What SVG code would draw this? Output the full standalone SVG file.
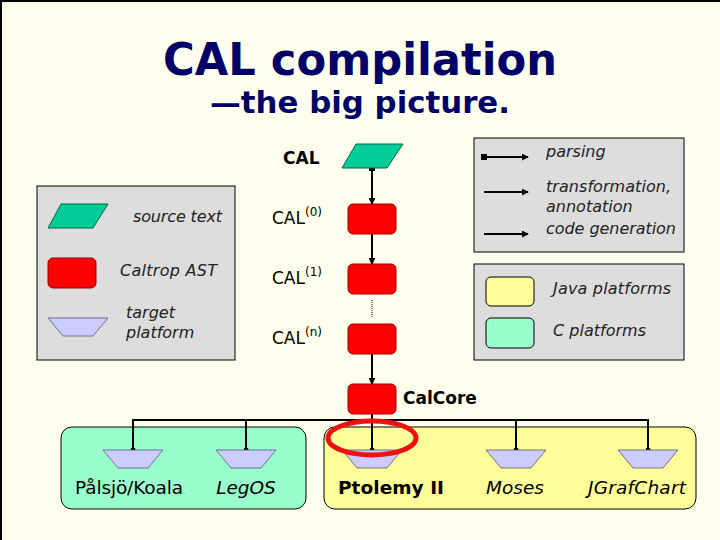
<svg xmlns="http://www.w3.org/2000/svg" width="720" height="540" viewBox="0 0 720 540">
<defs>
<marker id="arr" viewBox="0 0 8 8" refX="7" refY="4" markerWidth="7" markerHeight="7" markerUnits="userSpaceOnUse" orient="auto"><path d="M0,0 L8,4 L0,8 z" fill="#000"/></marker>
<marker id="sq" viewBox="0 0 6 6" refX="3" refY="3" markerWidth="6" markerHeight="6" markerUnits="userSpaceOnUse" orient="auto"><rect x="0" y="0" width="6" height="6" fill="#000"/></marker>
<marker id="dot" viewBox="0 0 6 6" refX="3" refY="3" markerWidth="5" markerHeight="5" markerUnits="userSpaceOnUse"><circle cx="3" cy="3" r="3" fill="#000"/></marker>
</defs>
<style>
.title{font-family:"DejaVu Sans",Verdana,sans-serif;font-weight:bold;fill:#000066}
.leg{font-family:"DejaVu Sans",Verdana,sans-serif;font-style:italic;font-size:16px;fill:#222}
.lab{font-family:"DejaVu Sans",Verdana,sans-serif;font-size:17px;fill:#000}
.plat{font-family:"DejaVu Sans",Verdana,sans-serif;font-size:18.5px;fill:#000}
.box{fill:#DDDDDD;stroke:#000;stroke-width:1}
.src{fill:#00CC99;stroke:#006644;stroke-width:1}
.ast{fill:#FF0000;stroke:#990000;stroke-width:1}
.tgt{fill:#CCCCFF;stroke:#555577;stroke-width:0.8}
.con{stroke:#000;stroke-width:2;fill:none}
</style>
<rect x="0" y="0" width="720" height="540" fill="#FFFFEE"/>
<path d="M1,540 V1 H720" stroke="#000" stroke-width="2" fill="none"/>

<g id="title">
<text class="title" x="360" y="75" font-size="44" text-anchor="middle" textLength="394" lengthAdjust="spacingAndGlyphs">CAL compilation</text>
<text class="title" x="360" y="113" font-size="31" text-anchor="middle" textLength="300" lengthAdjust="spacingAndGlyphs">—the big picture.</text>
</g>

<g id="legend-nodes">
<rect class="box" x="37" y="186" width="198" height="174"/>
<polygon class="src" points="61,204 108,204 93,228 48,228"/>
<rect class="ast" x="48" y="258" width="48" height="30" rx="5"/>
<polygon class="tgt" points="48,318 108,318 93,336 63,336"/>
<text class="leg" x="133" y="222" textLength="89">source text</text>
<text class="leg" x="120" y="276" textLength="97">Caltrop AST</text>
<text class="leg" x="126" y="318">target</text>
<text class="leg" x="126" y="338">platform</text>
</g>

<g id="legend-arrows">
<rect class="box" x="474" y="138" width="210" height="114"/>
<line class="con" x1="484" y1="157" x2="528" y2="157" stroke-width="1.5" marker-start="url(#sq)" marker-end="url(#arr)"/>
<line class="con" x1="484" y1="192" x2="528" y2="192" stroke-width="1.5" marker-end="url(#arr)"/>
<line class="con" x1="484" y1="234" x2="528" y2="234" stroke-width="1.5" marker-end="url(#arr)"/>
<text class="leg" x="546" y="157">parsing</text>
<text class="leg" x="546" y="192" textLength="125">transformation,</text>
<text class="leg" x="546" y="212">annotation</text>
<text class="leg" x="546" y="234" textLength="130">code generation</text>
</g>

<g id="legend-platforms">
<rect class="box" x="474" y="264" width="210" height="96"/>
<rect x="486" y="277" width="48" height="29" rx="5" fill="#FFFF99" stroke="#000"/>
<rect x="486" y="318" width="48" height="30" rx="5" fill="#99FFCC" stroke="#000"/>
<text class="leg" x="553" y="294" textLength="118">Java platforms</text>
<text class="leg" x="553" y="336" textLength="93">C platforms</text>
</g>

<g id="c-platforms">
<rect x="61" y="427" width="245" height="82" rx="11" fill="#99FFCC" stroke="#000"/>
</g>
<g id="java-platforms">
<rect x="324" y="427" width="372" height="82" rx="11" fill="#FFFF99" stroke="#000"/>
</g>

<g id="connectors">
<line class="con" x1="372" y1="168" x2="372" y2="204" marker-start="url(#sq)" marker-end="url(#arr)"/>
<line class="con" x1="372" y1="234" x2="372" y2="264" marker-end="url(#arr)"/>
<line x1="372" y1="300" x2="372" y2="318" stroke="#000" stroke-width="1" stroke-dasharray="1,1"/>
<line class="con" x1="372" y1="354" x2="372" y2="384" marker-end="url(#arr)"/>
<line class="con" x1="372" y1="414" x2="372" y2="420"/>
<path class="con" d="M133,450 V420 H648 V450"/>
<line class="con" x1="246" y1="420" x2="246" y2="450" marker-end="url(#dot)"/>
<line class="con" x1="372" y1="420" x2="372" y2="450" marker-end="url(#dot)"/>
<line class="con" x1="516" y1="420" x2="516" y2="450" marker-end="url(#dot)"/>
<line x1="133" y1="447" x2="133" y2="450" stroke="none" marker-end="url(#dot)"/>
<line x1="648" y1="447" x2="648" y2="450" stroke="none" marker-end="url(#dot)"/>
</g>

<g id="cal">
<polygon class="src" points="356,144 403,144 387,168 342,168"/>
<text class="lab" x="283" y="164" font-weight="bold">CAL</text>
</g>
<g id="cal0">
<rect class="ast" x="348" y="204" width="48" height="30" rx="5"/>
<text class="lab" x="272" y="224">CAL<tspan font-size="12" dy="-8">(0)</tspan></text>
</g>
<g id="cal1">
<rect class="ast" x="348" y="264" width="48" height="30" rx="5"/>
<text class="lab" x="272" y="284">CAL<tspan font-size="12" dy="-8">(1)</tspan></text>
</g>
<g id="caln">
<rect class="ast" x="348" y="324" width="48" height="30" rx="5"/>
<text class="lab" x="272" y="344">CAL<tspan font-size="12" dy="-8">(n)</tspan></text>
</g>
<g id="calcore">
<rect class="ast" x="348" y="384" width="48" height="30" rx="5"/>
<text class="lab" x="403" y="404" font-weight="bold" font-size="17.5">CalCore</text>
</g>

<g id="palsjo">
<polygon class="tgt" points="103,450 163,450 148,468 118,468"/>
<text class="plat" x="129" y="494" text-anchor="middle" textLength="108">Pålsjö/Koala</text>
</g>
<g id="legos">
<polygon class="tgt" points="216,450 276,450 261,468 231,468"/>
<text class="plat" x="246" y="494" text-anchor="middle" font-style="italic">LegOS</text>
</g>
<g id="ptolemy">
<polygon class="tgt" points="342,450 402,450 387,468 357,468"/>
<text class="plat" x="391" y="494" text-anchor="middle" font-weight="bold" textLength="106">Ptolemy II</text>
</g>
<g id="moses">
<polygon class="tgt" points="486,450 546,450 531,468 501,468"/>
<text class="plat" x="515" y="494" text-anchor="middle" font-style="italic">Moses</text>
</g>
<g id="jgrafchart">
<polygon class="tgt" points="618,450 678,450 663,468 633,468"/>
<text class="plat" x="637" y="494" text-anchor="middle" font-style="italic" textLength="98">JGrafChart</text>
</g>

<g id="highlight">
<ellipse cx="372" cy="438" rx="44" ry="17" fill="none" stroke="#EE1111" stroke-width="5"/>
</g>
</svg>
